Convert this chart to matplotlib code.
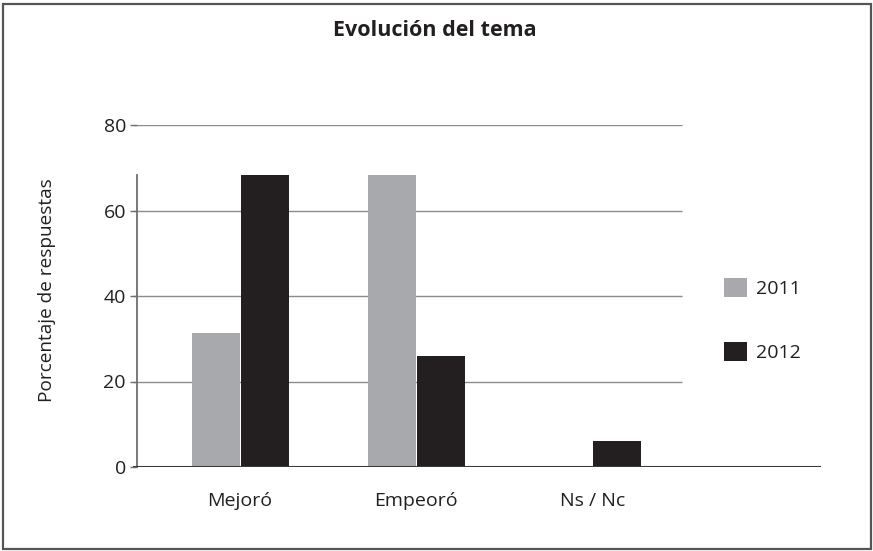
import matplotlib
matplotlib.use("Agg")
import matplotlib.pyplot as plt
from matplotlib.patches import Rectangle
import numpy as np

plt.rcParams['font.family'] = ['Open Sans', 'DejaVu Sans']

categories = ["Mejoró", "Empeoró", "Ns / Nc"]
years = ["2011", "2012"]
values_2011 = [31.3, 68.3, 0]
values_2012 = [68.3, 26.0, 6.0]
yticks = [0, 20, 40, 60, 80]

TEXT = "#231f20"
C2011 = "#a7a9ac"
C2012 = "#231f20"

W, H = 873, 551
fig = plt.figure(figsize=(W / 100, H / 100), dpi=100)

# plotting area in pixel terms
left_px, right_px, top_px, bottom_px = 133, 821, 125, 467
ax = fig.add_axes([left_px / W, (H - bottom_px) / H,
                   (right_px - left_px) / W, (bottom_px - top_px) / H])

x = np.arange(len(categories))
bw = 48 / 176
gap = 0.5 / 176
ax.bar(x - bw / 2 - gap, values_2011, width=bw, color=C2011, label=years[0], zorder=3)
ax.bar(x + bw / 2 + gap, values_2012, width=bw, color=C2012, label=years[1], zorder=3)

ax.set_xlim(-0.608, 3.30)
ax.set_ylim(0, 80)

# horizontal grid lines ending short of the legend
grid_end = 2.51
for yv in yticks[1:]:
    ax.hlines(yv, -0.608, grid_end, color="#8a8c8e", lw=1.0, zorder=1)
ax.axhline(0, color="#3a3a3a", lw=1.5, zorder=4)

for s in ["top", "right", "bottom"]:
    ax.spines[s].set_visible(False)
ax.spines["left"].set_bounds(0, max(values_2011 + values_2012))
ax.spines["left"].set_color("#6d6e71")
ax.spines["left"].set_linewidth(1.3)
ax.spines["left"].set_position(("data", -0.585))

ax.set_yticks(yticks)
ax.set_yticklabels([str(v) for v in yticks])
ax.tick_params(axis="y", length=5, width=1.0, color="#6d6e71", labelsize=14,
               labelcolor=TEXT, pad=3)
ax.set_xticks(x)
ax.set_xticklabels(categories)
ax.tick_params(axis="x", length=0, labelsize=14, labelcolor=TEXT, pad=18)

fig.text(47 / W, 1 - 290 / H, "Porcentaje de respuestas", rotation=90,
         ha="center", va="center", fontsize=13.7, color=TEXT)
fig.text(435 / W, 1 - 31 / H, "Evolución del tema", ha="center", va="center",
         fontsize=15.5, fontweight="bold", color=TEXT)

leg = ax.legend(loc="center left", bbox_to_anchor=(714 / W, 1 - 320 / H),
                bbox_transform=fig.transFigure, frameon=False, fontsize=14,
                handlelength=1.18, handleheight=1.13, handletextpad=0.5,
                labelspacing=2.25, labelcolor=TEXT, borderpad=0)

# outer frame
fig.patches.append(Rectangle((2.5 / W, 2.5 / H), (W - 5) / W, (H - 6) / H,
                             transform=fig.transFigure, fill=False,
                             edgecolor="#555555", lw=1.6))

fig.savefig("out.png", dpi=100)
